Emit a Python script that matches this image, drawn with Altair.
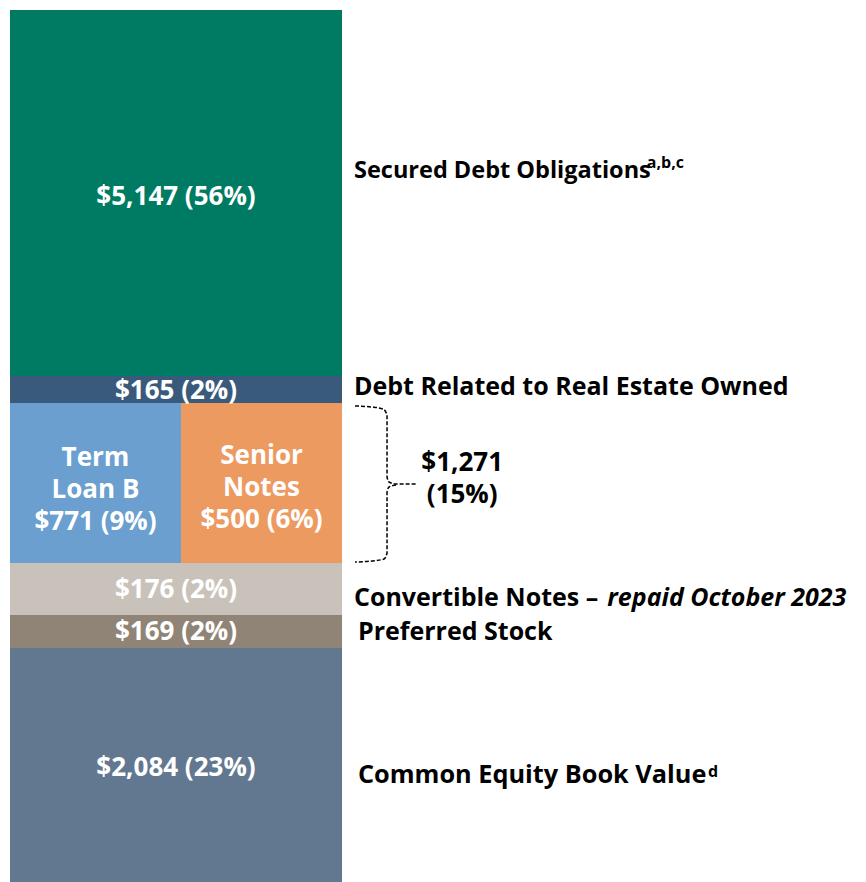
import altair as alt
import pandas as pd

# ---------------- data ----------------
segments = ["Secured Debt Obligations", "Debt Related to Real Estate Owned", "Term Loan B",
            "Senior Notes", "Convertible Notes", "Preferred Stock", "Common Equity Book Value"]
amounts = [5147, 165, 771, 500, 176, 169, 2084]          # $ millions
shares = [56, 2, 9, 6, 2, 2, 23]                          # % of total capitalization
inner_prefix = ["", "", "Term\nLoan B\n", "Senior\nNotes\n", "", "", ""]
side_labels = ["Secured Debt Obligations", "Debt Related to Real Estate Owned", None, None,
               "Convertible Notes \u2013", "Preferred Stock", "Common Equity Book Value"]
footnotes = ["a,b,c", "", "", "", "", "", "d"]
group_total = 1271
group_share = 15
convertible_note = "repaid October 2023"

# ---------------- styling / layout (schematic, not to scale in source) ----------------
fill_colors = ["#007B63", "#3A5A7B", "#6A9FD0", "#EC9A60", "#C9C2BB", "#908476", "#627891"]
tier_of = [0, 1, 2, 2, 3, 4, 5]
tier_heights = [366, 27, 160, 52, 33, 234]
x_spans = [(0, 100), (0, 100), (0, 51.5), (51.5, 100), (0, 100), (0, 100), (0, 100)]
side_x = [103.6, 103.6, None, None, 103.6, 104.8, 104.8]
side_y = [161, 377, None, None, 588, 622, 765]
side_size = [23.5, 25, None, None, 25, 25, 25.3]
foot_x = [191.8, None, None, None, None, None, 210.2]
foot_y = [158, None, None, None, None, None, 767]
inner_dy = [4, 1.5, 7, 5, 1, 0.5, 3]
INNER_LH = 32
FONT = "Open Sans"

tier_top = [0]
for h in tier_heights:
    tier_top.append(tier_top[-1] + h)

rows = []
for i, s in enumerate(segments):
    t = tier_of[i]
    y0, y1 = tier_top[t], tier_top[t + 1]
    x0, x1 = x_spans[i]
    text = f"{inner_prefix[i]}${amounts[i]:,} ({shares[i]}%)"
    nlines = text.count("\n") + 1
    yc = (y0 + y1) / 2 + inner_dy[i]
    rows.append(dict(seg=s, x0=x0, x1=x1, y0=y0, y1=y1, xc=(x0 + x1) / 2,
                     yfirst=yc - (nlines - 1) / 2 * INNER_LH, inner=text))
df = pd.DataFrame(rows)

side_df = pd.DataFrame([dict(text=side_labels[i], x=side_x[i], y=side_y[i], fs=side_size[i])
                        for i in range(len(segments)) if side_labels[i]])
sup_df = pd.DataFrame([dict(text=footnotes[i], x=foot_x[i], y=foot_y[i])
                       for i in range(len(segments)) if footnotes[i]])
ital_df = pd.DataFrame([dict(text=convertible_note, x=179.9, y=588)])
tot_df = pd.DataFrame([dict(text=f"${group_total:,}\n({group_share}%)", x=136.2, y=453)])

# brace for the unsecured group (drawn in the same scale units)
brace_px = [(355, 406), (372, 407), (383, 409), (387, 415), (387, 477), (389, 482), (396, 484),
            (417, 484)]
brace_px2 = [(396, 485), (389, 487), (387, 492), (387, 553), (384, 559), (372, 561), (355, 562)]
brace_rows = []
for k, (px, py) in enumerate(brace_px):
    brace_rows.append(dict(part="a", o=k, x=(px - 10) / 3.32, y=py - 10))
for k, (px, py) in enumerate(brace_px2):
    brace_rows.append(dict(part="b", o=k, x=(px - 10) / 3.32, y=py - 10))
brace_df = pd.DataFrame(brace_rows)

W, H = 850, 866
xs = alt.Scale(domain=[-0.6, 255.4], range=[0, W], nice=False, zero=False)
ys = alt.Scale(domain=[-2, 864], reverse=True, nice=False, zero=False)
noax = None

bars = alt.Chart(df).mark_rect().encode(
    x=alt.X("x0:Q", scale=xs, axis=noax), x2="x1:Q",
    y=alt.Y("y0:Q", scale=ys, axis=noax), y2="y1:Q",
    color=alt.Color("seg:N", scale=alt.Scale(domain=segments, range=fill_colors), legend=None),
)

inner = alt.Chart(df).mark_text(font=FONT, fontWeight="bold", fontSize=26, color="white",
                                lineBreak="\n", lineHeight=INNER_LH, baseline="middle").encode(
    x=alt.X("xc:Q", scale=xs, axis=noax), y=alt.Y("yfirst:Q", scale=ys, axis=noax), text="inner:N")

side = alt.Chart(side_df).mark_text(font=FONT, fontWeight="bold", color="black",
                                    align="left", baseline="middle").encode(
    x=alt.X("x:Q", scale=xs, axis=noax), y=alt.Y("y:Q", scale=ys, axis=noax), text="text:N",
    size=alt.Size("fs:Q", scale=None, legend=None))

sup = alt.Chart(sup_df).mark_text(font=FONT, fontWeight="bold", fontSize=16, color="black",
                                  align="left", baseline="alphabetic").encode(
    x=alt.X("x:Q", scale=xs, axis=noax), y=alt.Y("y:Q", scale=ys, axis=noax), text="text:N")

ital = alt.Chart(ital_df).mark_text(font=FONT, fontWeight="bold", fontStyle="italic", fontSize=25,
                                    color="black", align="left", baseline="middle").encode(
    x=alt.X("x:Q", scale=xs, axis=noax), y=alt.Y("y:Q", scale=ys, axis=noax), text="text:N")

tot = alt.Chart(tot_df).mark_text(font=FONT, fontWeight="bold", fontSize=26, color="black",
                                  lineBreak="\n", lineHeight=32, baseline="middle").encode(
    x=alt.X("x:Q", scale=xs, axis=noax), y=alt.Y("y:Q", scale=ys, axis=noax), text="text:N")

brace = alt.Chart(brace_df).mark_line(color="black", strokeWidth=1.5, strokeDash=[4, 2],
                                      interpolate="monotone").encode(
    x=alt.X("x:Q", scale=xs, axis=noax), y=alt.Y("y:Q", scale=ys, axis=noax),
    detail="part:N", order="o:Q")

chart = alt.layer(bars, inner, brace, side, sup, ital, tot).properties(
    width=W, height=H, padding=0, background="white"
).configure_view(stroke=None)

chart.save("out.html", embed_options={"renderer": "svg", "actions": False})
